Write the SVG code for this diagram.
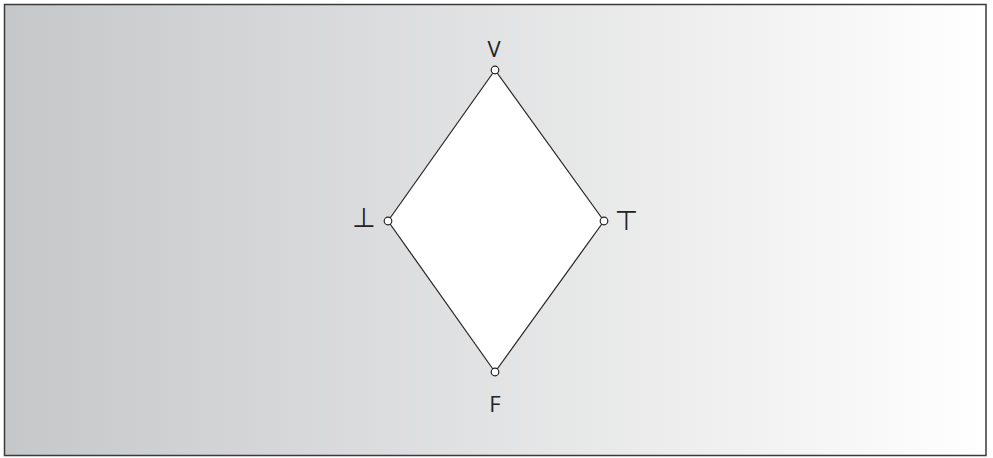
<svg xmlns="http://www.w3.org/2000/svg" width="993" height="458" viewBox="0 0 993 458">
<defs>
<linearGradient id="bg" x1="0" y1="0" x2="1" y2="0">
<stop offset="0" stop-color="#c6c7c9"/>
<stop offset="1" stop-color="#ffffff"/>
</linearGradient>
</defs>
<style>
.lbl{font-family:"Open Sans","DejaVu Sans",sans-serif;font-size:22px;fill:#222;text-anchor:middle}
.sym{font-family:"DejaVu Sans",sans-serif;font-size:27px;fill:#222;text-anchor:middle}
.node{fill:#fff;stroke:#222;stroke-width:1.2}
.edge{stroke:#222;stroke-width:1.2;fill:none}
</style>
<rect x="4.5" y="4.5" width="981.5" height="451" fill="url(#bg)" stroke="#3a3a3a" stroke-width="1.5"/>
<polygon points="495,70 604,221 495,372 388,221" fill="#fff"/>
<g id="connectors">
<line class="edge" x1="495" y1="70" x2="604" y2="221"/>
<line class="edge" x1="604" y1="221" x2="495" y2="372"/>
<line class="edge" x1="495" y1="372" x2="388" y2="221"/>
<line class="edge" x1="388" y1="221" x2="495" y2="70"/>
</g>
<g id="node-V">
<circle class="node" cx="495" cy="70" r="3.8"/>
<text class="lbl" x="494" y="57">V</text>
</g>
<g id="node-bot">
<circle class="node" cx="388" cy="221" r="3.8"/>
<text class="sym" x="364" y="227">⊥</text>
</g>
<g id="node-top">
<circle class="node" cx="604" cy="221" r="3.8"/>
<text class="sym" x="626.5" y="230">⊤</text>
</g>
<g id="node-F">
<circle class="node" cx="495" cy="372" r="3.8"/>
<text class="lbl" x="495" y="412">F</text>
</g>
</svg>
